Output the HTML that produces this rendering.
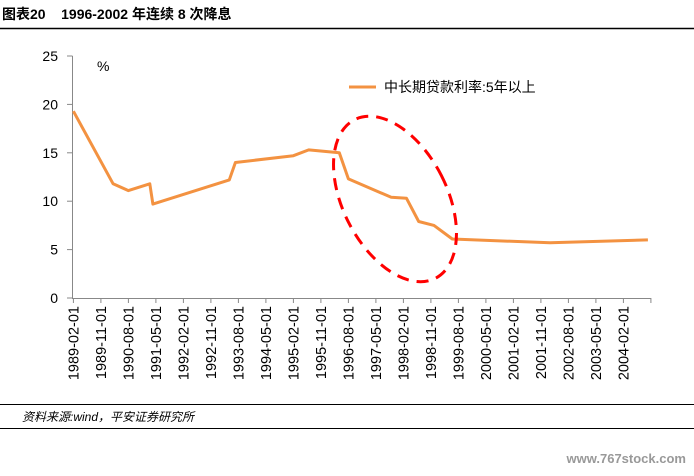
<!DOCTYPE html>
<html><head><meta charset="utf-8"><style>
body{margin:0;background:#fff;width:694px;height:471px;overflow:hidden;font-family:"Liberation Sans","Noto Sans CJK SC",sans-serif;}
</style></head><body>
<svg width="694" height="471" xmlns="http://www.w3.org/2000/svg" font-family="Liberation Sans, Noto Sans CJK SC, sans-serif">
<text x="2" y="19" font-size="14" font-weight="bold" fill="#000">图表20&#160;&#160;&#160;&#160;1996-2002 年连续 8 次降息</text>
<line x1="0" y1="28.5" x2="694" y2="28.5" stroke="#000" stroke-width="1.5"/>
<g id="axes"></g>
<g id="plot"></g>
<text x="97" y="71" font-size="14" fill="#000">%</text>
<line x1="349" y1="87" x2="376" y2="87" stroke="#F39241" stroke-width="3"/>
<text x="384" y="92" font-size="14" fill="#000">中长期贷款利率:5年以上</text>
<ellipse cx="395" cy="199" rx="52" ry="89" transform="rotate(-27 395 199)" fill="none" stroke="#FF0000" stroke-width="3" stroke-dasharray="12,8"/>
<line x1="0" y1="404.5" x2="694" y2="404.5" stroke="#000" stroke-width="1"/>
<text x="22" y="421" font-size="12" font-style="italic" fill="#000">资料来源:wind，平安证券研究所</text>
<line x1="0" y1="428.5" x2="694" y2="428.5" stroke="#000" stroke-width="1"/>
<text x="686" y="463" font-size="13" fill="#999" text-anchor="end" font-weight="bold">www.767stock.com</text>
</svg>
<script>
const dates=["1989-02","1990-03","1990-08","1991-03","1991-04","1993-05","1993-07","1995-02","1995-07","1996-05","1996-08","1997-10","1998-03","1998-07","1998-12","1999-06","2002-02","2004-10"];
const values=[19.3,11.8,11.1,11.8,9.7,12.2,14.0,14.7,15.3,15.0,12.3,10.4,10.3,7.9,7.5,6.1,5.7,6.0];
const yTicks=[0,5,10,15,20,25];
const xLabels=["1989-02-01","1989-11-01","1990-08-01","1991-05-01","1992-02-01","1992-11-01","1993-08-01","1994-05-01","1995-02-01","1995-11-01","1996-08-01","1997-05-01","1998-02-01","1998-11-01","1999-08-01","2000-05-01","2001-02-01","2001-11-01","2002-08-01","2003-05-01","2004-02-01"];
const NS="http://www.w3.org/2000/svg";
const X0=73.4,PXM=3.056,Y0=298,PXU=9.68;
function mo(s){const p=s.split("-");return (+p[0]-1989)*12+(+p[1]-2);}
function xs(s){return X0+mo(s)*PXM;}
function ys(v){return Y0-v*PXU;}
function mk(t,a,parent){const e=document.createElementNS(NS,t);for(const k in a)e.setAttribute(k,a[k]);parent.appendChild(e);return e;}
const ax=document.getElementById("axes"),pl=document.getElementById("plot");
let e=mk("line",{x1:72.5,y1:ys(25),x2:72.5,y2:Y0,stroke:"#888","stroke-width":1},ax);


e=mk("line",{x1:72,y1:Y0+0.5,x2:651,y2:Y0+0.5,stroke:"#888","stroke-width":1},ax);


yTicks.forEach(v=>{
 const t=mk("line",{x1:67,y1:ys(v),x2:72.5,y2:ys(v),stroke:"#888"},ax);
 
 
 const l=mk("text",{x:58,y:ys(v)+5,"font-size":14,"text-anchor":"end",fill:"#000"},ax);
 l.textContent=v;
 
 
});
for(let i=0;i<=21;i++){
 const x=X0+i*27.5;
 const t=mk("line",{x1:x,y1:Y0,x2:x,y2:Y0+5,stroke:"#888"},ax);
 
 
}
xLabels.forEach((s,i)=>{
 const x=X0+mo(s.slice(0,7))*PXM+5;
 const l=mk("text",{x:0,y:0,"font-size":14.5,"text-anchor":"end",fill:"#000",transform:`translate(${x},306) rotate(-90)`},ax);
 l.textContent=s;
 
 
});
const pts=dates.map((d,i)=>xs(d).toFixed(1)+","+ys(values[i]).toFixed(1)).join(" ");
const line=mk("polyline",{points:pts,fill:"none",stroke:"#F39241","stroke-width":3,"stroke-linejoin":"round"},pl);


</script>
</body></html>
